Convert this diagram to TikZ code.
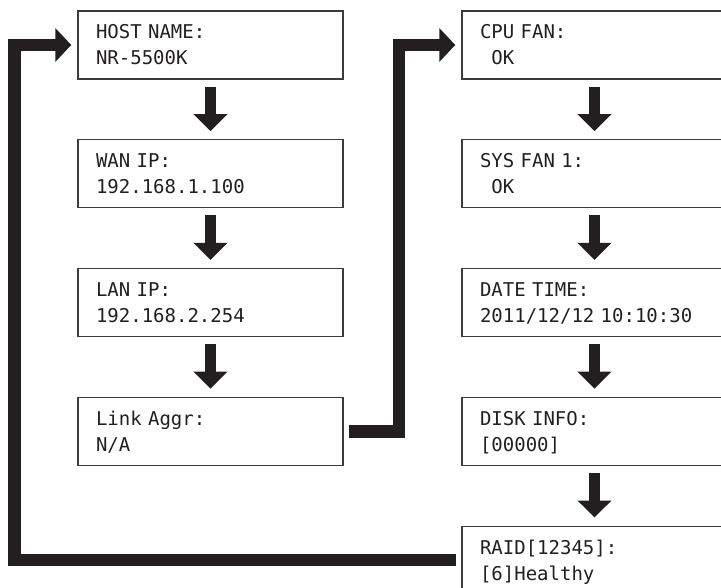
\documentclass[tikz,border=0pt]{standalone}
\usepackage{fontspec}
\newfontfamily\lcdfont{DejaVu Sans Mono}
\usetikzlibrary{arrows.meta, positioning}

\definecolor{inkblack}{HTML}{231F20}
\definecolor{framegray}{HTML}{3C3C3C}

% two display lines, first line cap height fixed
\newcommand{\lcdtext}[2]{\rule{0pt}{13.9pt}\smash{#1}\\\smash{#2}}

\begin{document}
\begin{tikzpicture}[x=1pt, y=-1pt, node distance=59.4pt,
    panel/.style={draw=framegray, line width=1.4pt, minimum width=265pt, minimum height=68pt,
        inner xsep=18pt, inner ysep=0pt, text width=229pt, align=left, text=inkblack,
        font=\lcdfont\fontsize{19}{26}\selectfont},
    stepdown/.style={draw=inkblack, line width=11pt, -{Triangle[length=17pt,width=33pt]},
        shorten <=7pt, shorten >=8pt},
    jump/.style={draw=inkblack, line width=12.5pt, line join=miter,
        -{Triangle[length=16pt,width=33pt]}, shorten <=5pt, shorten >=6pt}]
    \useasboundingbox (0,0) rectangle (721,588);
    \clip (0,0) rectangle (721,588);

    % Left column
    \node[panel] (host) at (210.5,45) {\lcdtext{HOST NAME:}{NR-5500K}};
    \node[panel, below=of host] (wan) {\lcdtext{WAN IP:}{192.168.1.100}};
    \node[panel, below=of wan] (lan) {\lcdtext{LAN IP:}{192.168.2.254}};
    \node[panel, below=of lan] (link) {\lcdtext{Link Aggr:}{N/A}};

    % Right column
    \node[panel, right=117.6pt of host] (cpu) {\lcdtext{CPU FAN:}{\phantom{0}OK}};
    \node[panel, below=of cpu] (sysfan) {\lcdtext{SYS FAN 1:}{\phantom{0}OK}};
    \node[panel, below=of sysfan] (date) {\lcdtext{DATE TIME:}{2011/12/12 10:10:30}};
    \node[panel, below=of date] (disk) {\lcdtext{DISK INFO:}{[00000]}};
    \node[panel, below=of disk] (raid) {\lcdtext{RAID[12345]:}{[6]Healthy}};

    % Steps down each column
    \draw[stepdown] (host) -- (wan);
    \draw[stepdown] (wan) -- (lan);
    \draw[stepdown] (lan) -- (link);
    \draw[stepdown] (cpu) -- (sysfan);
    \draw[stepdown] (sysfan) -- (date);
    \draw[stepdown] (date) -- (disk);
    \draw[stepdown] (disk) -- (raid);

    % Jumps between columns
    \coordinate (riser) at (399,240);
    \coordinate (back) at (14.5,300);
    \draw[jump] (link.east) -| (riser) |- (cpu.west);
    \draw[jump] (raid.west) -| (back) |- (host.west);
\end{tikzpicture}
\end{document}
